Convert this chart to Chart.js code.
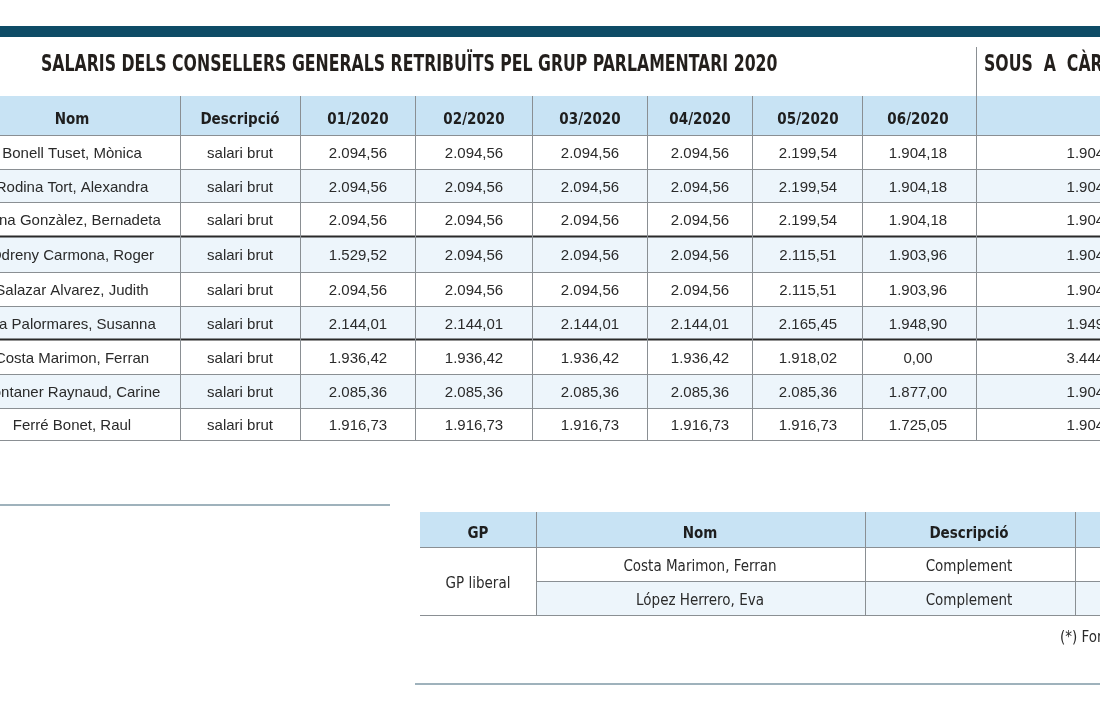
<!DOCTYPE html>
<html><head><meta charset="utf-8">
<script src="https://cdn.jsdelivr.net/npm/chart.js@4"></script>
<style>html,body{margin:0;padding:0;background:#fff;overflow:hidden}</style>
</head><body>
<canvas id="c" width="1100" height="710"></canvas>
<script>
// ---- data ----
const title1 = "SALARIS DELS CONSELLERS GENERALS RETRIBUÏTS PEL GRUP PARLAMENTARI 2020";
const title2 = "SOUS  A  CÀRREC";
const headers = ["Nom","Descripció","01/2020","02/2020","03/2020","04/2020","05/2020","06/2020",""];
const names = ["Bonell Tuset, Mònica","Rodina Tort, Alexandra","Mina Gonzàlez, Bernadeta","Odreny Carmona, Roger","Salazar Alvarez, Judith","Ha Palormares, Susanna","Costa Marimon, Ferran","Fontaner Raynaud, Carine","Ferré Bonet, Raul"];
const descr = ["salari brut","salari brut","salari brut","salari brut","salari brut","salari brut","salari brut","salari brut","salari brut"];
const m01 = [2094.56,2094.56,2094.56,1529.52,2094.56,2144.01,1936.42,2085.36,1916.73];
const m02 = [2094.56,2094.56,2094.56,2094.56,2094.56,2144.01,1936.42,2085.36,1916.73];
const m03 = [2094.56,2094.56,2094.56,2094.56,2094.56,2144.01,1936.42,2085.36,1916.73];
const m04 = [2094.56,2094.56,2094.56,2094.56,2094.56,2144.01,1936.42,2085.36,1916.73];
const m05 = [2199.54,2199.54,2199.54,2115.51,2115.51,2165.45,1918.02,2085.36,1916.73];
const m06 = [1904.18,1904.18,1904.18,1903.96,1903.96,1948.90,0.00,1877.00,1725.05];
const sous = [1904.18,1904.18,1904.18,1904.18,1904.18,1949.00,3444.00,1904.18,1904.18];
const headers2 = ["GP","Nom","Descripció",""];
const gp2 = ["GP liberal"];
const names2 = ["Costa Marimon, Ferran","López Herrero, Eva"];
const descr2 = ["Complement","Complement"];
const footnote = "(*) Font";

// ---- layout ----
const colEdges = [-40,180,300,415,532,647,752,862,976,1160];
const colCenters = [72,240,358,474,590,700,808,918];
const rowEdges = [135,169,202,236,272,306,339,374,408,440];
const hdrTop = 96, thickAfter = [2,5];
const col2Edges = [420,536,865,1075,1160];
const row2Edges = [547,581,615];

function fmt(v){
  const s = v.toFixed(2).split('.');
  const i = s[0].replace(/\B(?=(\d{3})+(?!\d))/g,'.');
  return i + ',' + s[1];
}
const monthSeries = [m01,m02,m03,m04,m05,m06];
const cells = [];
names.forEach((n,r)=>{
  const yc = (rowEdges[r]+rowEdges[r+1])/2;
  cells.push({x:colCenters[0],y:yc,t:n,a:'center'});
  cells.push({x:colCenters[1],y:yc,t:descr[r],a:'center'});
  monthSeries.forEach((s,k)=>cells.push({x:colCenters[2+k],y:yc,t:fmt(s[r]),a:'center'}));
  cells.push({x:1125,y:yc,t:fmt(sous[r]),a:'right'});
});
const cells2 = [];
names2.forEach((n,r)=>{
  const yc=(row2Edges[r]+row2Edges[r+1])/2;
  cells2.push({x:700,y:yc,t:n,a:'center'});
  cells2.push({x:969,y:yc,t:descr2[r],a:'center'});
});
cells2.push({x:478,y:(row2Edges[0]+row2Edges[2])/2,t:gp2[0],a:'center'});

const FONT = '"Liberation Sans", Arial, sans-serif';
const NARROW = '"DejaVu Sans Condensed", sans-serif';

function squeezeText(ctx,t,x,y,sx){
  ctx.save(); ctx.translate(x,y); ctx.scale(sx,1); ctx.fillText(t,0,0); ctx.restore();
}

const tablePlugin = {
  id:'table',
  beforeDatasetsDraw(chart){
    const ctx=chart.ctx, X=chart.scales.x, Y=chart.scales.y;
    const px=v=>X.getPixelForValue(v), py=v=>Y.getPixelForValue(v);
    ctx.save();
    ctx.fillStyle='#0e4c66'; ctx.fillRect(px(0),py(26),px(1100)-px(0),py(37)-py(26));
    ctx.fillStyle='#231f1c'; ctx.font='bold 23px '+NARROW; ctx.textBaseline='middle'; ctx.textAlign='left';
    squeezeText(ctx,title1,px(41),py(65),0.76);
    squeezeText(ctx,title2,px(984),py(65),0.76);
    ctx.fillStyle='#c8e3f4'; ctx.fillRect(px(0),py(hdrTop),px(1100)-px(0),py(rowEdges[0])-py(hdrTop));
    for(let r=0;r<names.length;r++){ if(r%2===1){ctx.fillStyle='#edf5fb';ctx.fillRect(px(0),py(rowEdges[r]),px(1100)-px(0),py(rowEdges[r+1])-py(rowEdges[r]));}}
    rowEdges.forEach((y,i)=>{
      const thick = thickAfter.includes(i-1);
      ctx.strokeStyle= thick?'#2a2a2a':'#8a8f93'; ctx.lineWidth=thick?2:1;
      ctx.beginPath(); ctx.moveTo(px(0),py(y)+0.5); ctx.lineTo(px(1100),py(y)+0.5); ctx.stroke();
    });
    ctx.strokeStyle='#8a8f93'; ctx.lineWidth=1;
    colEdges.slice(1,-1).forEach(x=>{
      const top = x===976?47:hdrTop;
      ctx.beginPath(); ctx.moveTo(px(x)+0.5,py(top)); ctx.lineTo(px(x)+0.5,py(rowEdges[rowEdges.length-1])); ctx.stroke();
    });
    ctx.fillStyle='#1e1e1e'; ctx.font='bold 15px '+NARROW; ctx.textAlign='center';
    headers.forEach((h,i)=>{ if(h) ctx.fillText(h,px(colCenters[i]),py(120)); });
    ctx.font='15px '+FONT; ctx.fillStyle='#2a2a2a';
    cells.forEach(c=>{ctx.textAlign=c.a; ctx.fillText(c.t,px(c.x),py(c.y+2));});

    ctx.strokeStyle='#7f98a6'; ctx.lineWidth=1.5;
    ctx.beginPath(); ctx.moveTo(px(0),py(505)); ctx.lineTo(px(390),py(505)); ctx.stroke();
    ctx.fillStyle='#c8e3f4'; ctx.fillRect(px(420),py(512),px(1100)-px(420),py(547)-py(512));
    ctx.fillStyle='#edf5fb'; ctx.fillRect(px(536),py(581),px(1100)-px(536),py(615)-py(581));
    ctx.strokeStyle='#8a8f93'; ctx.lineWidth=1;
    [[420,547],[536,581],[420,615]].forEach(([x0,y])=>{ctx.beginPath();ctx.moveTo(px(x0),py(y)+0.5);ctx.lineTo(px(1100),py(y)+0.5);ctx.stroke();});
    col2Edges.slice(1,-1).forEach(x=>{ctx.beginPath();ctx.moveTo(px(x)+0.5,py(512));ctx.lineTo(px(x)+0.5,py(615));ctx.stroke();});
    ctx.fillStyle='#1e1e1e'; ctx.font='bold 15px '+NARROW; ctx.textAlign='center';
    [478,700,969].forEach((x,i)=>ctx.fillText(headers2[i],px(x),py(534)));
    ctx.font='15px '+NARROW; ctx.fillStyle='#2a2a2a';
    cells2.forEach(c=>{ctx.textAlign=c.a; ctx.fillText(c.t,px(c.x),py(c.y+3));});
    ctx.textAlign='left'; ctx.fillText(footnote,px(1060),py(638));
    ctx.strokeStyle='#7f98a6'; ctx.lineWidth=1.5;
    ctx.beginPath(); ctx.moveTo(px(415),py(684)); ctx.lineTo(px(1100),py(684)); ctx.stroke();
    ctx.restore();
  }
};

new Chart(document.getElementById('c'),{
  type:'scatter',
  data:{datasets:[{data:cells.concat(cells2).map(c=>({x:c.x,y:c.y})),pointRadius:0}]},
  options:{
    responsive:false, animation:false, devicePixelRatio:1,
    layout:{padding:0},
    plugins:{legend:{display:false},tooltip:{enabled:false}},
    scales:{
      x:{type:'linear',min:0,max:1100,display:false},
      y:{type:'linear',min:0,max:710,reverse:true,display:false}
    }
  },
  plugins:[tablePlugin]
});
</script>
</body></html>
